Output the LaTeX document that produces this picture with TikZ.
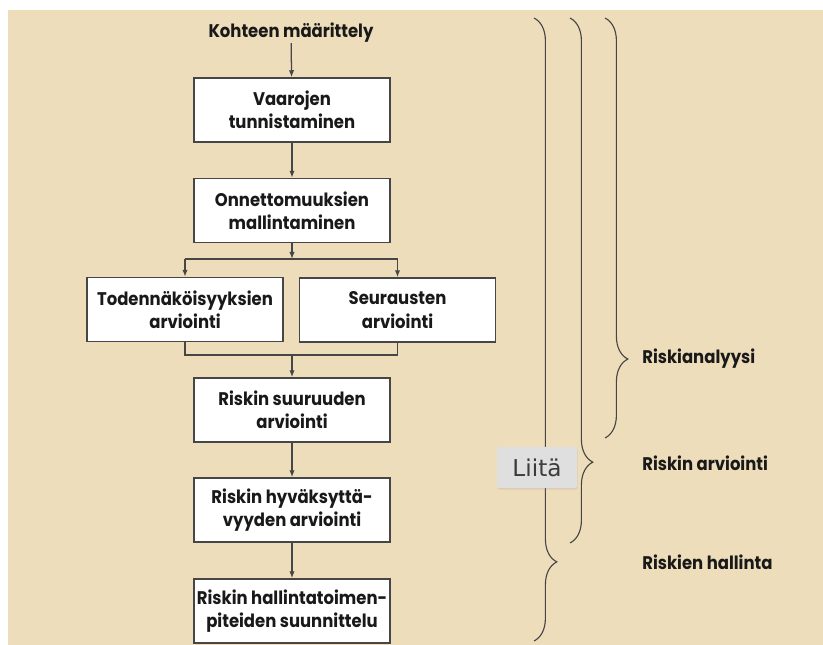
\documentclass[tikz,border=0pt]{standalone}
\usepackage{fontspec}
\setmainfont{Poppins}[FakeStretch=0.9]
\newfontfamily\liitafont{DejaVu Sans}
\usetikzlibrary{arrows.meta,decorations.pathreplacing,shadows}

\definecolor{paperi}{RGB}{237,221,186}
\definecolor{viiva}{RGB}{70,70,70}
\definecolor{teksti}{RGB}{25,25,25}
\definecolor{nappi}{RGB}{223,223,223}

\tikzset{
	laatikko/.style={draw=viiva, line width=1pt, fill=white, minimum width=4.9cm, minimum height=1.6cm,
		align=center, inner sep=2pt, text=teksti, font=\fontsize{13}{16.5}\selectfont\bfseries},
	nuoli/.style={draw=viiva, line width=0.9pt, -{Latex[length=5pt,width=3.8pt]}},
	haara/.style={draw=viiva, line width=0.9pt},
	sulku/.style={draw=viiva, line width=0.8pt, decorate,
		decoration={brace, amplitude=0.57cm, aspect=#1}},
	otsikko/.style={text=teksti, inner sep=0pt, font=\fontsize{13}{16.5}\selectfont\bfseries},
}

\begin{document}
\begin{tikzpicture}[x=0.025cm, y=-0.025cm]
	\useasboundingbox (0, 0) rectangle (823, 645);
	\fill[white] (0, 0) rectangle (823, 645);
	\fill[paperi] (8, 10) rectangle (823, 645); % tausta
	
	% vuokaavio
	\node[otsikko] (kohde) at (291, 33) {Kohteen määrittely};
	\node[laatikko] (vaarat) at (292, 110) {Vaarojen\\tunnistaminen};
	\node[laatikko] (onnett) at (292, 210.5) {Onnettomuuksien\\mallintaminen};
	\node[laatikko] (todenn) at (185, 309.5) {Todennäköisyyksien\\arviointi};
	\node[laatikko] (seur) at (397.5, 310) {Seurausten\\arviointi};
	\node[laatikko] (suuruus) at (292, 410) {Riskin suuruuden\\arviointi};
	\node[laatikko] (hyvaks) at (292, 510) {Riskin hyväksyttä-\\vyyden arviointi};
	\node[laatikko] (hallinta) at (292, 611) {Riskin hallintatoimen-\\piteiden suunnittelu};
	
	\coordinate (jako) at (292, 259);
	\coordinate (yhdistys) at (292, 355);
	
	\draw[nuoli] (kohde) -- (vaarat);
	\draw[nuoli] (vaarat) -- (onnett);
	\draw[nuoli] (onnett) -- (jako);
	\draw[haara] (todenn |- jako) -- (seur |- jako);
	\draw[nuoli] (todenn |- jako) -- (todenn);
	\draw[nuoli] (seur |- jako) -- (seur);
	\draw[haara] (todenn) -- (todenn |- yhdistys) -- (seur |- yhdistys) -- (seur);
	\draw[nuoli] (yhdistys) -- (suuruus);
	\draw[nuoli] (suuruus) -- (hyvaks);
	\draw[nuoli] (hyvaks) -- (hallinta);
	
	% aaltosulut
	\coordinate (a1) at (534, 18);
	\coordinate (a2) at (534, 641);
	\coordinate (b1) at (570, 18);
	\coordinate (b2) at (570, 543);
	\coordinate (c1) at (605, 18);
	\coordinate (c2) at (605, 438);
	
	\draw[sulku=0.873] (a1) -- (a2);
	\draw[sulku=0.846] (b1) -- (b2);
	\draw[sulku=0.812] (c1) -- (c2);
	
	\node[otsikko, anchor=west] (analyysi) at (642, 359) {Riskianalyysi};
	\node[otsikko, anchor=west] (arviointi) at (642, 463) {Riskin arviointi};
	\node[otsikko, anchor=west] (hallintaots) at (642, 562) {Riskien hallinta};
	
	% liita-nappi
	\node[fill=nappi, rounded corners=1.5pt, minimum width=2cm, minimum height=1.03cm, inner sep=0pt,
		drop shadow={opacity=0.18, shadow xshift=0.4pt, shadow yshift=-1pt},
		text={rgb,255:red,60;green,60;blue,60}, font=\liitafont\fontsize{16.5}{19}\selectfont] (liita) at (537, 467.5) {Liitä};
\end{tikzpicture}
\end{document}
